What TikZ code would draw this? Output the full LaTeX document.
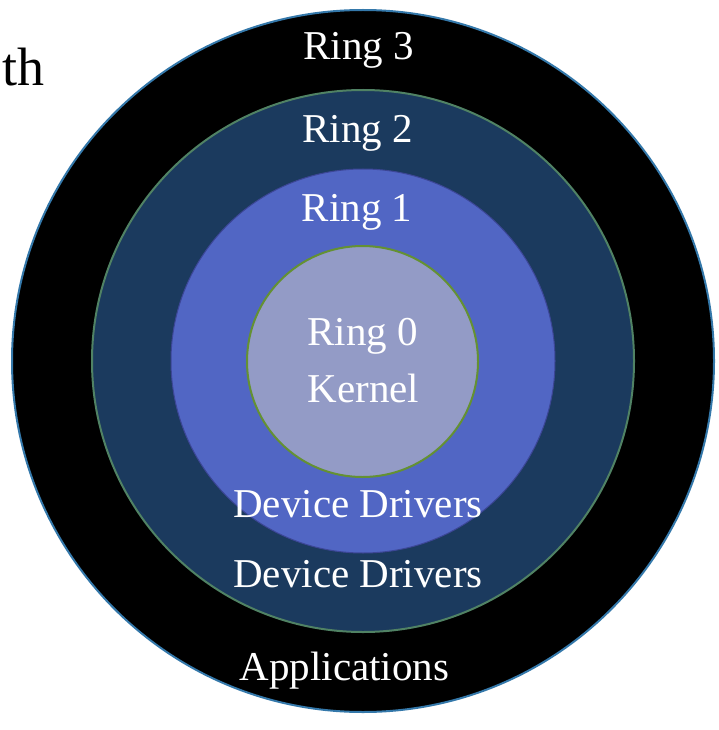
\documentclass[tikz,border=0pt]{standalone}
\usepackage{fontspec}
\setmainfont{Liberation Serif}

\definecolor{ringthreeedge}{RGB}{52,120,170}
\definecolor{ringtwofill}{RGB}{27,58,94}
\definecolor{ringtwoedge}{RGB}{80,130,100}
\definecolor{ringonefill}{RGB}{81,102,196}
\definecolor{ringoneedge}{RGB}{60,70,150}
\definecolor{ringzerofill}{RGB}{147,155,198}
\definecolor{ringzeroedge}{RGB}{100,145,50}

\def\ringthree{(363,361) circle (351pt)}
\def\ringtwo{(363,361) circle (271pt)}
\def\ringone{(363,361) circle (192pt)}
\def\ringzero{(362.5,361.5) circle (115.5pt)}

\tikzset{ringlabel/.style={text=white, anchor=base, inner sep=0pt,
    font=\fontsize{41}{48}\selectfont}}

\begin{document}
\begin{tikzpicture}[x=1pt,y=-1pt]
                  \useasboundingbox (0,0) rectangle (718,730);
                  \draw[line width=2pt, draw=ringthreeedge, fill=black] \ringthree;
                  \draw[line width=2pt, draw=ringtwoedge, fill=ringtwofill] \ringtwo;
                  \draw[line width=1pt, draw=ringoneedge, fill=ringonefill] \ringone;
                  \draw[line width=2pt, draw=ringzeroedge, fill=ringzerofill] \ringzero;
                  \node[ringlabel] (ring3) at (358.5,60) {Ring 3};
                  \node[ringlabel] (ring2) at (357.5,143) {Ring 2};
                  \node[ringlabel] (ring1) at (357,221) {Ring 1};
                  \node[ringlabel] (ring0) at (362.5,345) {Ring 0};
                  \node[ringlabel] (kernel) at (363.5,402) {Kernel};
                  \node[ringlabel] (drivers1) at (358,517) {Device Drivers};
                  \node[ringlabel] (drivers2) at (358,587) {Device Drivers};
                  \node[ringlabel] (apps) at (344.5,680) {Applications};
                  \node[anchor=base west, inner sep=0pt,
                    font=\fontsize{54}{60}\selectfont] (fragment) at (2,86) {th};
                \end{tikzpicture}
\end{document}
